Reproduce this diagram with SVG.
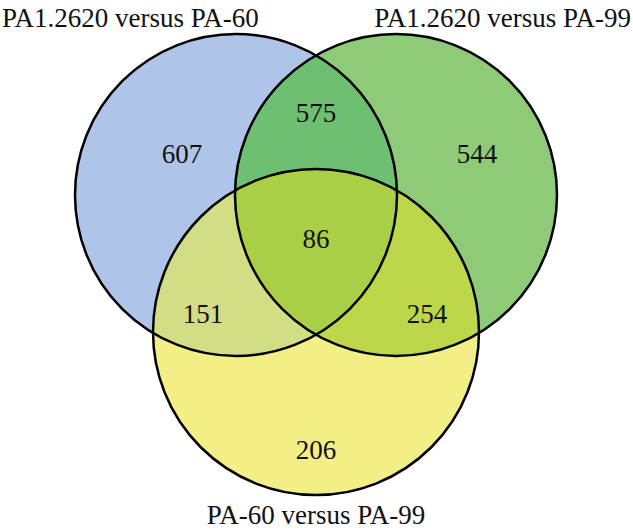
<svg xmlns="http://www.w3.org/2000/svg" width="633" height="530" viewBox="0 0 633 530">
<style>
text{font-family:'Liberation Serif',Tinos,'Times New Roman','DejaVu Serif',serif;font-size:27px;fill:#111}
.num{text-anchor:middle}
.ring{fill:none;stroke:#000;stroke-width:2.5}
</style>
<defs>
<circle id="cA" cx="236" cy="195" r="161"/>
<circle id="cB" cx="396" cy="195" r="161"/>
<circle id="cC" cx="316" cy="332" r="163"/>
<clipPath id="clipA"><use href="#cA"/></clipPath>
<clipPath id="clipB"><use href="#cB"/></clipPath>
</defs>
<rect width="633" height="530" fill="#fff"/>
<g id="fills">
<use href="#cA" fill="#aec4e8"/>
<use href="#cB" fill="#8eca78"/>
<use href="#cC" fill="#f3ef86"/>
<g clip-path="url(#clipA)"><use href="#cB" fill="#6dbf72"/><use href="#cC" fill="#d3dd85"/></g>
<g clip-path="url(#clipB)"><use href="#cC" fill="#bcd84a"/></g>
<g clip-path="url(#clipA)"><g clip-path="url(#clipB)"><use href="#cC" fill="#a9cf47"/></g></g>
</g>
<g id="setA"><use href="#cA" class="ring"/><text x="2" y="27">PA1.2620 versus PA-60</text><text class="num" x="182" y="163">607</text></g>
<g id="setB"><use href="#cB" class="ring"/><text x="631" y="27" text-anchor="end">PA1.2620 versus PA-99</text><text class="num" x="477" y="163">544</text></g>
<g id="setC"><use href="#cC" class="ring"/><text class="num" x="316" y="524">PA-60 versus PA-99</text><text class="num" x="316" y="459">206</text></g>
<g id="AB"><text class="num" x="316" y="122">575</text></g>
<g id="AC"><text class="num" x="203" y="323">151</text></g>
<g id="BC"><text class="num" x="427" y="323">254</text></g>
<g id="ABC"><text class="num" x="316" y="248">86</text></g>
</svg>
